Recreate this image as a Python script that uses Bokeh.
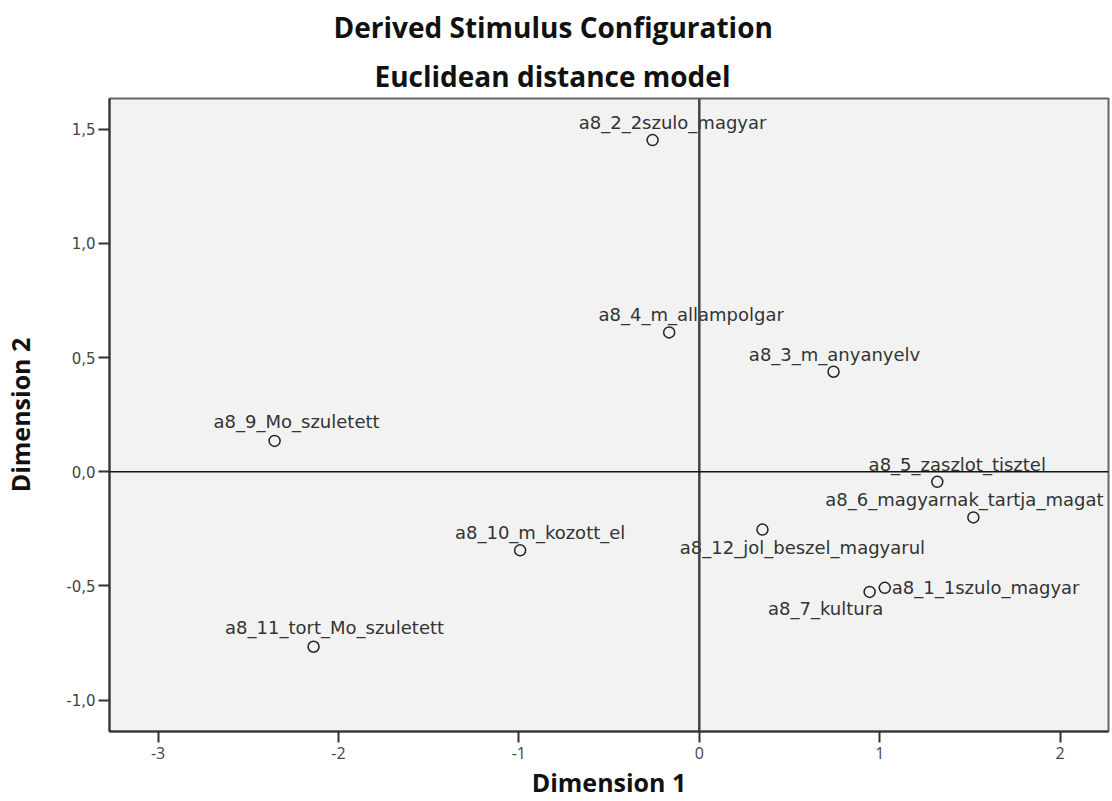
from bokeh.plotting import figure
from bokeh.models import ColumnDataSource, Range1d, Span, FixedTicker, Title
from bokeh.core.properties import value
from bokeh.embed import file_html
from bokeh.resources import INLINE

# ---- data ----
names = ["a8_1_1szulo_magyar", "a8_2_2szulo_magyar", "a8_3_m_anyanyelv", "a8_4_m_allampolgar",
         "a8_5_zaszlot_tisztel", "a8_6_magyarnak_tartja_magat", "a8_7_kultura",
         "a8_9_Mo_szuletett", "a8_10_m_kozott_el", "a8_11_tort_Mo_szuletett",
         "a8_12_jol_beszel_magyarul"]
dim1 = [1.028, -0.259, 0.744, -0.167, 1.319, 1.519, 0.944, -2.354, -0.993, -2.138, 0.350]
dim2 = [-0.508, 1.452, 0.438, 0.610, -0.044, -0.200, -0.526, 0.135, -0.344, -0.766, -0.253]

x_ticks = [-3, -2, -1, 0, 1, 2]
x_tick_labels = ["-3", "-2", "-1", "0", "1", "2"]
y_ticks = [-1.0, -0.5, 0.0, 0.5, 1.0, 1.5]
y_tick_labels = ["-1,0", "-0,5", "0,0", "0,5", "1,0", "1,5"]

title_text = "Derived Stimulus Configuration"
subtitle_text = "Euclidean distance model"
x_label = "Dimension 1"
y_label = "Dimension 2"

# ---- label placement (screen-pixel offsets, style only) ----
label_dx = [7, 20, 1, 22, 20, -9, -44, 22, 20, 21, 40]
label_dy = [0, -18, -17, -18, -17, -18, 17, -19, -18, -19, 18]
label_align = ["left", "center", "center", "center", "center", "center", "center",
               "center", "center", "center", "center"]

# ---- geometry ----
W, H = 1112, 801
FL, FR, FT, FB = 108, 1108, 95, 731   # frame edges in figure pixels
X0, X1 = -3.269, 2.268
Y0, Y1 = -1.137, 1.634

p = figure(width=W, height=H, output_backend="svg", toolbar_location=None, title=None,
           x_range=Range1d(X0, X1), y_range=Range1d(Y0, Y1),
           min_border_left=FL, min_border_right=W - FR,
           min_border_top=FT, min_border_bottom=H - FB)

p.background_fill_color = "#f2f2f2"
p.border_fill_color = "white"
p.outline_line_color = "#666666"
p.outline_line_width = 2
p.xgrid.visible = False
p.ygrid.visible = False

for ax in (p.xaxis, p.yaxis):
    ax.axis_line_color = "#333333"
    ax.axis_line_width = 2
    ax.major_tick_line_color = "#333333"
    ax.major_tick_line_width = 2
    ax.major_tick_in = 0
    ax.major_tick_out = 11
    ax.minor_tick_line_color = None
    ax.major_label_text_color = "#444444"
    ax.axis_label_text_font = "Open Sans"
    ax.axis_label_text_font_style = "bold"
    ax.axis_label_text_font_size = "25px"
    ax.axis_label_text_color = "#111111"

p.xaxis.ticker = FixedTicker(ticks=x_ticks)
p.xaxis.major_label_overrides = {t: s for t, s in zip(x_ticks, x_tick_labels)}
p.xaxis.major_label_text_font = "Open Sans"
p.xaxis.major_label_text_font_size = "16px"
p.xaxis.major_label_standoff = 4
p.xaxis.axis_label = x_label
p.xaxis.axis_label_standoff = 3

p.yaxis.ticker = FixedTicker(ticks=y_ticks)
p.yaxis.major_label_overrides = {t: s for t, s in zip(y_ticks, y_tick_labels)}
p.yaxis.major_label_text_font = "DejaVu Sans"
p.yaxis.major_label_text_font_size = "15px"
p.yaxis.major_label_standoff = 3
p.yaxis.axis_label = y_label
p.yaxis.axis_label_standoff = 26

# reference lines through the origin
p.add_layout(Span(location=0, dimension="height", line_color="#444444", line_width=2.5))
p.add_layout(Span(location=0, dimension="width", line_color="#111111", line_width=1.5))

src = ColumnDataSource(dict(x=dim1, y=dim2, name=names))
p.scatter("x", "y", source=src, marker="circle", size=11, fill_color=None,
          line_color="#222222", line_width=1.5)

for align in ("center", "left"):
    idx = [i for i, a in enumerate(label_align) if a == align]
    lsrc = ColumnDataSource(dict(
        x=[dim1[i] for i in idx], y=[dim2[i] for i in idx],
        name=[names[i] for i in idx],
        dx=[label_dx[i] for i in idx], dy=[label_dy[i] for i in idx]))
    p.text("x", "y", text="name", source=lsrc, x_offset="dx", y_offset="dy",
           text_align=align, text_baseline="middle",
           text_font=value("DejaVu Sans"), text_font_size="18px",
           text_color="#333333")

# titles (subtitle nearest the frame, main title above it)
tstyle = dict(align="left", text_font="Open Sans", text_font_style="bold",
              text_font_size="28px", text_color="#111111")
p.add_layout(Title(text=subtitle_text, offset=265, standoff=8, **tstyle), "above")
p.add_layout(Title(text=title_text, offset=224, standoff=10, **tstyle), "above")

open("out.html", "w").write(file_html(p, INLINE))
